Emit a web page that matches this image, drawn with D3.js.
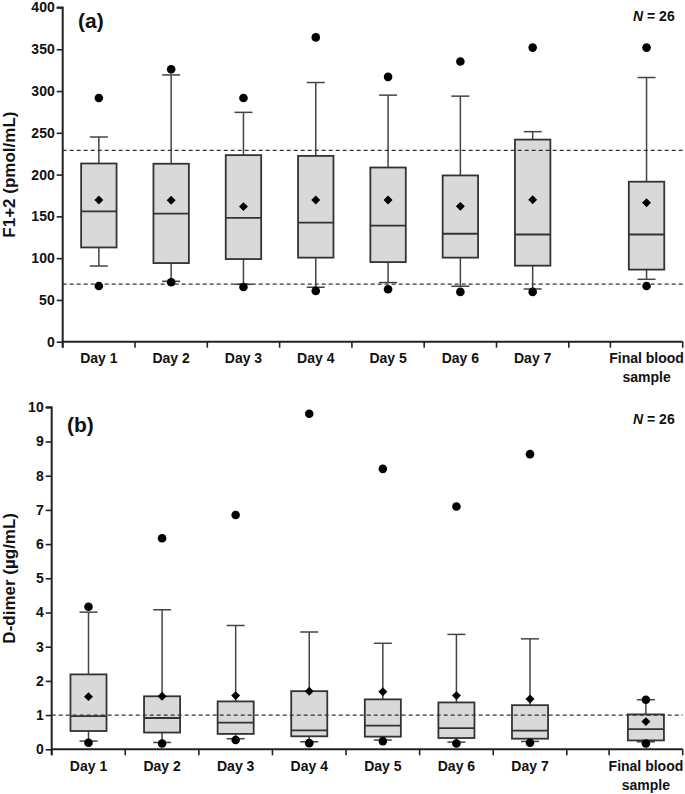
<!DOCTYPE html>
<html>
<head>
<meta charset="utf-8">
<script src="https://cdn.jsdelivr.net/npm/d3@7/dist/d3.min.js"></script>
<style>
  html, body { margin: 0; padding: 0; background: #fff; }
  svg { display: block; font-family: "Liberation Sans", Arial, sans-serif; }
</style>
</head>
<body>
<svg id="chart" width="685" height="794"></svg>
<script>
// ---------------- DATA ----------------
const categories = ["Day 1", "Day 2", "Day 3", "Day 4", "Day 5", "Day 6", "Day 7", "Final blood sample"];

// Panel (a): F1+2 (pmol/mL)
const f12WhiskerLow  = [90.6, 72.3, 68.7, 65.2, 70.8, 66.4, 63.1, 74.7];
const f12Q1          = [112.8, 94.1, 98.9, 100.6, 95.3, 100.6, 91.0, 86.3];
const f12Median      = [156.0, 153.3, 148.2, 142.6, 139.0, 129.2, 128.3, 128.3];
const f12Q3          = [213.3, 213.0, 223.3, 222.4, 208.5, 199.0, 241.9, 191.5];
const f12WhiskerHigh = [245.0, 319.3, 274.5, 310.2, 295.1, 293.9, 251.4, 316.2];
const f12Mean        = [169.7, 169.2, 161.7, 169.7, 169.7, 162.0, 170.0, 166.4];
const f12MaxPoint    = [291.6, 326.0, 291.6, 364.2, 317.0, 335.3, 352.0, 352.0];
const f12MinPoint    = [66.7, 71.1, 65.5, 60.8, 62.8, 59.6, 59.6, 66.7];
const f12RefLines    = [69, 229];
const f12Ticks       = [0, 50, 100, 150, 200, 250, 300, 350, 400];

// Panel (b): D-dimer (µg/mL)
const ddWhiskerLow  = [0.24, 0.20, 0.31, 0.22, 0.27, 0.21, 0.23, 0.22];
const ddQ1          = [0.535, 0.49, 0.45, 0.38, 0.37, 0.33, 0.31, 0.26];
const ddMedian      = [0.97, 0.915, 0.78, 0.555, 0.69, 0.62, 0.545, 0.59];
const ddQ3          = [2.19, 1.55, 1.40, 1.70, 1.46, 1.37, 1.29, 1.02];
const ddWhiskerHigh = [4.01, 4.08, 3.62, 3.43, 3.10, 3.36, 3.23, 1.45];
const ddMean        = [1.54, 1.55, 1.57, 1.70, 1.68, 1.57, 1.47, 0.81];
const ddMaxPoint    = [4.17, 6.17, 6.85, 9.81, 8.20, 7.10, 8.63, 1.45];
const ddMinPoint    = [0.19, 0.17, 0.27, 0.18, 0.24, 0.17, 0.19, 0.17];
const ddRefLines    = [1];
const ddTicks       = [0, 1, 2, 3, 4, 5, 6, 7, 8, 9, 10];

// ---------------- DRAW ----------------
const svg = d3.select("#chart");
const GAP = 0.575; // extra space before the final sample slot (in slot units)
const slotCenter = i => (i < 7 ? i + 0.5 : i + GAP + 0.5);
const slotBounds = [0, 1, 2, 3, 4, 5, 6, 7, 7 + GAP, 8 + GAP];

function panel(opts) {
  const { left, right, top, bottom, yMax, ticks, title, letter, letterX, letterY, nY,
          wLow, q1, med, q3, wHigh, mean, maxP, minP, refs, labelY, titleX } = opts;
  const g = svg.append("g");
  const x = d3.scaleLinear().domain([0, 8 + GAP]).range([left, right]);
  const y = d3.scaleLinear().domain([0, yMax]).range([bottom, top]);
  const bw = (x(1) - x(0)) * 0.49;
  const cap = 18;
  const data = categories.map((c, i) => ({
    c, i, cx: x(slotCenter(i)),
    wLow: wLow[i], q1: q1[i], med: med[i], q3: q3[i], wHigh: wHigh[i],
    mean: mean[i], maxP: maxP[i], minP: minP[i]
  }));

  // Y axis
  const yAxis = d3.axisLeft(y).tickValues(ticks).tickSize(6).tickPadding(2).tickFormat(d3.format("d"));
  const ya = g.append("g").attr("transform", `translate(${left},0)`).call(yAxis);
  ya.select(".domain").attr("stroke", "#222").attr("stroke-width", 2)
    .attr("d", `M-6,${y(yMax)}H0V${bottom + 6}`);
  ya.selectAll(".tick line").attr("stroke", "#222").attr("stroke-width", 1.6);
  ya.selectAll(".tick text").attr("font-size", 14).attr("font-weight", "bold").attr("fill", "#111")
    .attr("font-family", "Liberation Sans, Arial, sans-serif");

  // X axis
  g.append("line").attr("x1", left).attr("x2", right).attr("y1", bottom).attr("y2", bottom)
    .attr("stroke", "#222").attr("stroke-width", 2);
  g.selectAll(".xt").data(slotBounds).join("line")
    .attr("x1", d => x(d)).attr("x2", d => x(d))
    .attr("y1", bottom).attr("y2", bottom + 6)
    .attr("stroke", "#222").attr("stroke-width", 1.6);
  const xl = g.selectAll(".xl").data(data).join("text")
    .attr("x", d => d.cx).attr("y", labelY)
    .attr("text-anchor", "middle").attr("font-size", 14).attr("font-weight", "bold").attr("fill", "#111");
  xl.each(function(d) {
    const t = d3.select(this);
    if (d.i === 7) {
      t.append("tspan").attr("x", d.cx).attr("dy", 0).text("Final blood");
      t.append("tspan").attr("x", d.cx).attr("dy", 19).text("sample");
    } else {
      t.text(d.c);
    }
  });

  // Y title
  g.append("text")
    .attr("transform", `translate(${titleX},${(top + bottom) / 2}) rotate(-90)`)
    .attr("text-anchor", "middle").attr("font-size", 17).attr("font-weight", "bold").attr("fill", "#111")
    .text(title);

  // Panel letter and N
  g.append("text").attr("x", letterX).attr("y", letterY)
    .attr("font-size", 21).attr("font-weight", "bold").attr("fill", "#111").text(letter);
  const nt = g.append("text").attr("x", right - 8).attr("y", nY).attr("text-anchor", "end")
    .attr("font-size", 14).attr("font-weight", "bold").attr("fill", "#111");
  nt.append("tspan").attr("font-style", "italic").text("N");
  nt.append("tspan").text(" = 26");

  // Whiskers
  const wc = "#444";
  g.selectAll(".wu").data(data).join("line")
    .attr("x1", d => d.cx).attr("x2", d => d.cx)
    .attr("y1", d => y(d.q3)).attr("y2", d => y(d.wHigh))
    .attr("stroke", wc).attr("stroke-width", 1.5);
  g.selectAll(".wl").data(data).join("line")
    .attr("x1", d => d.cx).attr("x2", d => d.cx)
    .attr("y1", d => y(d.q1)).attr("y2", d => y(d.wLow))
    .attr("stroke", wc).attr("stroke-width", 1.5);
  g.selectAll(".cu").data(data).join("line")
    .attr("x1", d => d.cx - cap / 2).attr("x2", d => d.cx + cap / 2)
    .attr("y1", d => y(d.wHigh)).attr("y2", d => y(d.wHigh))
    .attr("stroke", wc).attr("stroke-width", 1.5);
  g.selectAll(".cl").data(data).join("line")
    .attr("x1", d => d.cx - cap / 2).attr("x2", d => d.cx + cap / 2)
    .attr("y1", d => y(d.wLow)).attr("y2", d => y(d.wLow))
    .attr("stroke", wc).attr("stroke-width", 1.5);

  // Boxes
  g.selectAll(".box").data(data).join("rect")
    .attr("x", d => d.cx - bw / 2).attr("width", bw)
    .attr("y", d => y(d.q3)).attr("height", d => y(d.q1) - y(d.q3))
    .attr("fill", "#d9d9d9").attr("stroke", "#333").attr("stroke-width", 1.8);
  g.selectAll(".med").data(data).join("line")
    .attr("x1", d => d.cx - bw / 2).attr("x2", d => d.cx + bw / 2)
    .attr("y1", d => y(d.med)).attr("y2", d => y(d.med))
    .attr("stroke", "#333").attr("stroke-width", 1.8);

  // Reference lines (on top)
  g.selectAll(".ref").data(refs).join("line")
    .attr("x1", left).attr("x2", right)
    .attr("y1", d => y(d)).attr("y2", d => y(d))
    .attr("stroke", "#333").attr("stroke-width", 1.2).attr("stroke-dasharray", "4,3");

  // Mean diamonds
  const diamond = d3.symbol().type(d3.symbolSquare).size(40);
  g.selectAll(".mean").data(data).join("path")
    .attr("d", diamond)
    .attr("transform", d => `translate(${d.cx},${y(d.mean)}) rotate(45)`)
    .attr("fill", "#000");

  // Max / min points
  g.selectAll(".maxp").data(data).join("circle")
    .attr("cx", d => d.cx).attr("cy", d => y(d.maxP)).attr("r", 4.3).attr("fill", "#000");
  g.selectAll(".minp").data(data).join("circle")
    .attr("cx", d => d.cx).attr("cy", d => y(d.minP)).attr("r", 4.3).attr("fill", "#000");
}

panel({
  left: 62.7, right: 682.7, top: 7.5, bottom: 341.7, yMax: 400, ticks: f12Ticks,
  title: "F1+2 (pmol/mL)", letter: "(a)", letterX: 78, letterY: 28, nY: 21,
  wLow: f12WhiskerLow, q1: f12Q1, med: f12Median, q3: f12Q3, wHigh: f12WhiskerHigh,
  mean: f12Mean, maxP: f12MaxPoint, minP: f12MinPoint, refs: f12RefLines,
  labelY: 363, titleX: 15
});

panel({
  left: 51.7, right: 682.7, top: 407.3, bottom: 749.3, yMax: 10, ticks: ddTicks,
  title: "D-dimer (µg/mL)", letter: "(b)", letterX: 67, letterY: 432, nY: 424,
  wLow: ddWhiskerLow, q1: ddQ1, med: ddMedian, q3: ddQ3, wHigh: ddWhiskerHigh,
  mean: ddMean, maxP: ddMaxPoint, minP: ddMinPoint, refs: ddRefLines,
  labelY: 771, titleX: 15
});
</script>
</body>
</html>
